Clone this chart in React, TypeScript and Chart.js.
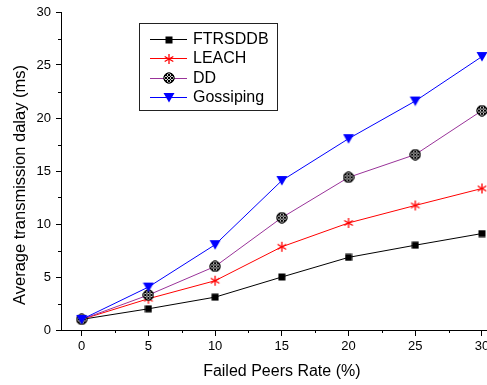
import { useEffect, useRef } from 'react';
import { Chart, registerables } from 'chart.js';
Chart.register(...registerables);

const xValues = [0, 5, 10, 15, 20, 25, 30];
const ftrsddb = [1.0, 2.0, 3.1, 5.0, 6.85, 8.0, 9.1];
const leach = [1.0, 2.95, 4.65, 7.85, 10.1, 11.75, 13.35];
const dd = [1.0, 3.3, 6.0, 10.6, 14.4, 16.55, 20.7];
const gossiping = [1.0, 4.05, 8.05, 14.1, 18.05, 21.6, 25.8];
const seriesNames = ['FTRSDDB', 'LEACH', 'DD', 'Gossiping'];
const xTicks = [0, 5, 10, 15, 20, 25, 30];
const yTicks = [0, 5, 10, 15, 20, 25, 30];
const xMinorTicks = [2.5, 7.5, 12.5, 17.5, 22.5, 27.5];
const yMinorTicks = [2.5, 7.5, 12.5, 17.5, 22.5, 27.5];
const xTitle = 'Failed Peers Rate (%)';
const yTitle = 'Average transmission dalay (ms)';

const FONT = "'Liberation Sans', Arial, sans-serif";
const COLORS = ['#000000', '#ff0000', '#993399', '#0000ff'];

function makeCanvas(w: number, h: number) {
  const c = document.createElement('canvas');
  c.width = w;
  c.height = h;
  return c;
}

function squareMarker() {
  const c = makeCanvas(8, 8);
  const g = c.getContext('2d')!;
  g.fillStyle = '#000';
  g.fillRect(0.5, 0.5, 7, 7);
  return c;
}

function starMarker() {
  const c = makeCanvas(12, 12);
  const g = c.getContext('2d')!;
  g.strokeStyle = '#ff0000';
  g.lineWidth = 1.3;
  const cx = 6, cy = 6, r = 5;
  for (const a of [90, 30, -30]) {
    const rad = (a * Math.PI) / 180;
    g.beginPath();
    g.moveTo(cx - r * Math.cos(rad), cy - r * Math.sin(rad));
    g.lineTo(cx + r * Math.cos(rad), cy + r * Math.sin(rad));
    g.stroke();
  }
  return c;
}

function hatchMarker() {
  const c = makeCanvas(12, 12);
  const g = c.getContext('2d')!;
  const cx = 6, cy = 6, r = 5.2;
  g.beginPath();
  g.arc(cx, cy, r, 0, Math.PI * 2);
  g.fillStyle = '#cccccc';
  g.fill();
  g.save();
  g.clip();
  g.strokeStyle = '#000';
  g.lineWidth = 1;
  for (let k = -12; k <= 12; k += 3) {
    g.beginPath();
    g.moveTo(k, 0);
    g.lineTo(k + 12, 12);
    g.stroke();
    g.beginPath();
    g.moveTo(k + 12, 0);
    g.lineTo(k, 12);
    g.stroke();
  }
  g.restore();
  g.beginPath();
  g.arc(cx, cy, r, 0, Math.PI * 2);
  g.strokeStyle = '#000';
  g.lineWidth = 1;
  g.stroke();
  return c;
}

function triangleMarker() {
  const c = makeCanvas(12, 11);
  const g = c.getContext('2d')!;
  g.fillStyle = '#0000ff';
  g.beginPath();
  g.moveTo(0.5, 1);
  g.lineTo(11.5, 1);
  g.lineTo(6, 10.5);
  g.closePath();
  g.fill();
  return c;
}

export default function App() {
  const ref = useRef<HTMLCanvasElement | null>(null);

  useEffect(() => {
    if (!ref.current) return;
    const markers = [squareMarker(), starMarker(), hatchMarker(), triangleMarker()];
    const values = [ftrsddb, leach, dd, gossiping];

    const extras = {
      id: 'extras',
      afterDraw(chart: any) {
        const ctx = chart.ctx;
        const xs = chart.scales.x;
        const ys = chart.scales.y;
        const area = chart.chartArea;
        ctx.save();
        ctx.strokeStyle = '#000';
        ctx.lineWidth = 1;
        for (const v of xMinorTicks) {
          const px = Math.round(xs.getPixelForValue(v)) + 0.5;
          ctx.beginPath();
          ctx.moveTo(px, area.bottom);
          ctx.lineTo(px, area.bottom + 3);
          ctx.stroke();
        }
        for (const v of yMinorTicks) {
          const py = Math.round(ys.getPixelForValue(v)) + 0.5;
          ctx.beginPath();
          ctx.moveTo(area.left, py);
          ctx.lineTo(area.left - 3, py);
          ctx.stroke();
        }
        // axis titles
        ctx.fillStyle = '#000';
        ctx.textAlign = 'center';
        ctx.textBaseline = 'middle';
        ctx.font = `16px ${FONT}`;
        ctx.fillText(xTitle, (xs.getPixelForValue(0) + xs.getPixelForValue(30)) / 2, 372);
        ctx.save();
        ctx.translate(20, 185);
        ctx.rotate(-Math.PI / 2);
        ctx.font = `16.5px ${FONT}`;
        ctx.fillText(yTitle, 0, 0);
        ctx.restore();

        // legend
        ctx.strokeStyle = '#222';
        ctx.lineWidth = 1;
        ctx.strokeRect(139.5, 23.5, 138, 87);
        const rows = [39, 58, 77.5, 97];
        for (let i = 0; i < seriesNames.length; i++) {
          const y = rows[i];
          ctx.beginPath();
          ctx.strokeStyle = COLORS[i];
          ctx.lineWidth = 1;
          ctx.moveTo(150, Math.round(y) + 0.5);
          ctx.lineTo(187, Math.round(y) + 0.5);
          ctx.stroke();
          const m = markers[i];
          ctx.drawImage(m, Math.round(169 - m.width / 2), Math.round(y - m.height / 2 + 0.5));
          ctx.fillStyle = '#000';
          ctx.font = `16px ${FONT}`;
          ctx.textBaseline = 'middle';
          ctx.textAlign = 'left';
          ctx.fillText(seriesNames[i], 193, y + 1);
        }
        ctx.restore();
      },
    };

    const chart = new Chart(ref.current, {
      type: 'line',
      data: {
        datasets: seriesNames.map((name, i) => ({
          label: name,
          data: xValues.map((x, j) => ({ x, y: values[i][j] })),
          borderColor: COLORS[i],
          backgroundColor: COLORS[i],
          borderWidth: 1,
          pointStyle: markers[i] as any,
          pointRadius: 5,
          pointHoverRadius: 5,
          tension: 0,
          order: 4 - i,
        })),
      },
      options: {
        animation: false,
        responsive: false,
        maintainAspectRatio: false,
        layout: { padding: { top: 12, right: 0, left: 0, bottom: 0 } },
        plugins: {
          legend: { display: false },
          tooltip: { enabled: false },
        },
        scales: {
          x: {
            type: 'linear',
            min: -1.55,
            max: 31.5,
            afterBuildTicks: (s: any) => {
              s.ticks = xTicks.map((v) => ({ value: v }));
            },
            afterFit: (s: any) => {
              s.height = 55;
              s.paddingLeft = 0;
              s.paddingRight = 0;
            },
            grid: { drawOnChartArea: false, drawTicks: true, tickLength: 6, color: '#000' },
            border: { color: '#000', width: 1 },
            ticks: {
              color: '#000',
              font: { family: FONT, size: 13 },
              padding: 3,
              maxRotation: 0,
              autoSkip: false,
            },
          },
          y: {
            type: 'linear',
            min: 0,
            max: 30,
            afterBuildTicks: (s: any) => {
              s.ticks = yTicks.map((v) => ({ value: v }));
            },
            afterFit: (s: any) => {
              s.width = 61;
              s.paddingTop = 0;
              s.paddingBottom = 0;
            },
            grid: { drawOnChartArea: false, drawTicks: true, tickLength: 5, color: '#000' },
            border: { color: '#000', width: 1 },
            ticks: {
              color: '#000',
              font: { family: FONT, size: 13 },
              padding: 5,
              autoSkip: false,
            },
          },
        },
      },
      plugins: [extras],
    });
    return () => chart.destroy();
  }, []);

  return (
    <div style={{ position: 'absolute', left: 0, top: 0, width: 487, height: 385, overflow: 'hidden', background: '#fff' }}>
      <canvas ref={ref} width={508} height={385} style={{ width: 508, height: 385, display: 'block' }} />
    </div>
  );
}
